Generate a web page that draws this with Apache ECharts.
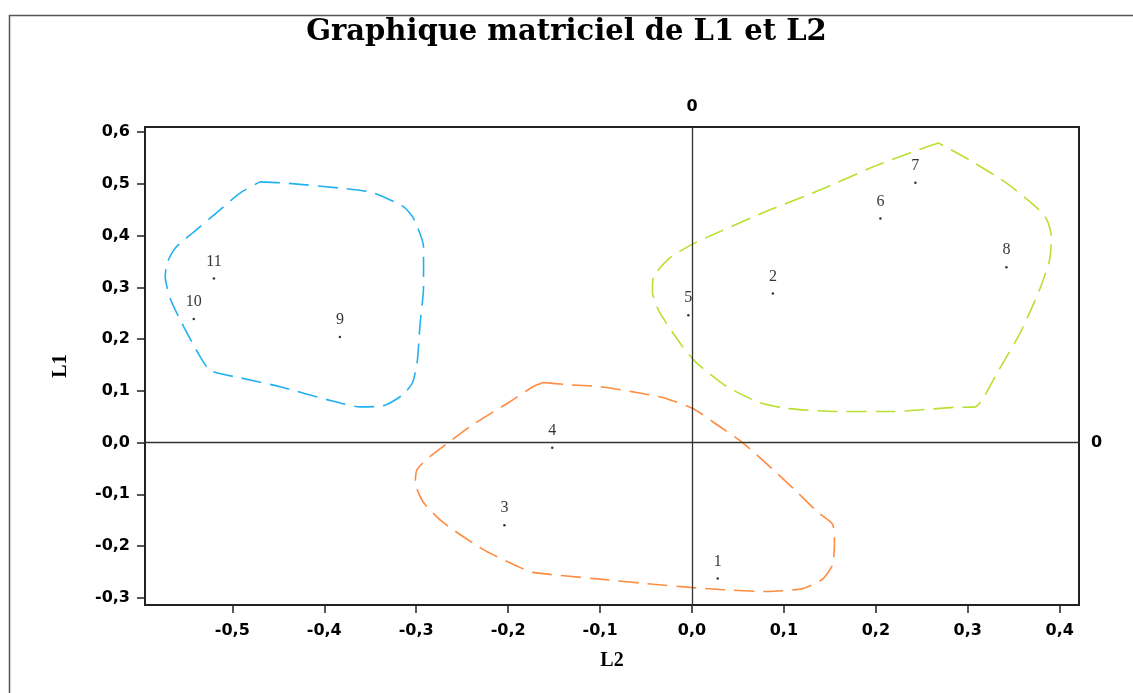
<!DOCTYPE html>
<html>
<head>
<meta charset="utf-8">
<script src="https://cdn.jsdelivr.net/npm/echarts@6/dist/echarts.min.js"></script>
<style>
html,body{margin:0;padding:0;background:#fff;}
#chart{width:1133px;height:693px;}
</style>
</head>
<body>
<div id="chart"></div>
<script>
// ---- data ----
const pointIds = ['1','2','3','4','5','6','7','8','9','10','11'];
const L2 = [0.028, 0.088, -0.204, -0.152, -0.004, 0.205, 0.243, 0.342, -0.383, -0.542, -0.520];
const L1 = [-0.263, 0.288, -0.160, -0.010, 0.246, 0.433, 0.502, 0.339, 0.204, 0.239, 0.317];

const xTicks = [-0.5, -0.4, -0.3, -0.2, -0.1, 0.0, 0.1, 0.2, 0.3, 0.4];
const yTicks = [-0.3, -0.2, -0.1, 0.0, 0.1, 0.2, 0.3, 0.4, 0.5, 0.6];

// group outlines (L2, L1)
const blueHull = [
  [-0.470,0.504],[-0.445,0.502],[-0.383,0.492],[-0.347,0.483],[-0.314,0.456],[-0.303,0.434],
  [-0.292,0.378],[-0.292,0.301],[-0.296,0.224],[-0.299,0.154],[-0.304,0.116],[-0.314,0.093],
  [-0.336,0.071],[-0.361,0.069],[-0.397,0.083],[-0.448,0.108],[-0.491,0.125],[-0.524,0.139],
  [-0.535,0.166],[-0.553,0.224],[-0.567,0.276],[-0.573,0.320],[-0.571,0.347],[-0.562,0.376],
  [-0.542,0.407],[-0.516,0.446],[-0.491,0.483],[-0.470,0.504]
];
const greenHull = [
  [0.268,0.579],[0.240,0.562],[0.197,0.533],[0.139,0.488],[0.085,0.450],[0.023,0.402],
  [0.001,0.384],[-0.024,0.357],[-0.042,0.320],[-0.043,0.290],[-0.035,0.251],[-0.010,0.185],
  [0.005,0.154],[0.038,0.108],[0.074,0.077],[0.103,0.066],[0.158,0.060],[0.218,0.060],
  [0.284,0.068],[0.308,0.069],[0.332,0.135],[0.357,0.212],[0.378,0.295],[0.389,0.353],
  [0.391,0.398],[0.386,0.431],[0.375,0.454],[0.342,0.502],[0.302,0.546],[0.268,0.579]
];
const orangeHull = [
  [-0.162,0.116],[-0.136,0.112],[-0.100,0.108],[-0.064,0.098],[-0.032,0.087],[0.001,0.066],
  [0.030,0.031],[0.055,0.000],[0.088,-0.052],[0.114,-0.095],[0.137,-0.135],[0.153,-0.158],
  [0.155,-0.193],[0.153,-0.236],[0.142,-0.264],[0.121,-0.282],[0.082,-0.288],[0.030,-0.284],
  [-0.002,-0.280],[-0.042,-0.274],[-0.100,-0.264],[-0.173,-0.251],[-0.190,-0.239],[-0.227,-0.207],
  [-0.271,-0.154],[-0.292,-0.116],[-0.301,-0.077],[-0.299,-0.052],[-0.285,-0.027],[-0.265,0.000],
  [-0.238,0.035],[-0.198,0.079],[-0.173,0.108],[-0.162,0.116]
];

// ---- chart ----
const chart = echarts.init(document.getElementById('chart'), null, {renderer:'canvas'});
const fmt = v => (Math.abs(v) < 1e-9 ? 0 : v).toFixed(1).replace('.', ',');
const tickFont = {fontFamily:'DejaVu Sans', fontWeight:'bold', fontSize:16, color:'#000'};

function hullSeries(data, color) {
  return {
    type:'line', data:data, symbol:'none', smooth:0.2, silent:true, z:3,
    lineStyle:{color:color, width:1.6, type:[20,9]}
  };
}

const option = {
  animation:false,
  backgroundColor:'#fff',
  title:{
    text:'Graphique matriciel de L1 et L2',
    left:'center', top:13,
    textStyle:{fontFamily:'DejaVu Serif', fontWeight:'bold', fontSize:29, color:'#000'}
  },
  graphic:[{
    type:'rect', left:7, top:13, silent:true,
    shape:{width:1200, height:800},
    style:{fill:'none', stroke:'#555', lineWidth:1.5}
  }],
  grid:{left:145, top:127, right:54, bottom:88, show:true, borderColor:'#222', borderWidth:2},
  xAxis:{
    type:'value', min:-0.595, max:0.421,
    name:'L2', nameLocation:'middle', nameGap:46,
    nameTextStyle:{fontFamily:'Liberation Serif', fontWeight:'bold', fontSize:20, color:'#000'},
    splitLine:{show:false},
    axisLine:{show:true, onZero:false, lineStyle:{color:'#222', width:2}},
    axisTick:{show:true, customValues:xTicks, length:8, lineStyle:{color:'#222', width:1.5}},
    axisLabel:Object.assign({customValues:xTicks, formatter:fmt, margin:18}, tickFont)
  },
  yAxis:{
    type:'value', min:-0.314, max:0.610,
    name:'L1', nameLocation:'middle', nameGap:74,
    nameTextStyle:{fontFamily:'Liberation Serif', fontWeight:'bold', fontSize:20, color:'#000'},
    splitLine:{show:false},
    axisLine:{show:true, onZero:false, lineStyle:{color:'#222', width:2}},
    axisTick:{show:true, customValues:yTicks, length:8, lineStyle:{color:'#222', width:1.5}},
    axisLabel:Object.assign({customValues:yTicks, formatter:fmt, margin:15}, tickFont)
  },
  series:[
    hullSeries(blueHull, '#22b1f0'),
    hullSeries(greenHull, '#b9e031'),
    hullSeries(orangeHull, '#ff8b40'),
    {
      type:'scatter', z:5,
      data:L2.map((x,i)=>({value:[x, L1[i]], name:pointIds[i]})),
      symbol:'circle', symbolSize:2.5,
      itemStyle:{color:'#000'},
      label:{show:true, position:'top', distance:8, formatter:p=>p.name,
             fontFamily:'Liberation Serif', fontSize:16, color:'#000'},
      markLine:{
        silent:true, symbol:'none', animation:false,
        lineStyle:{color:'#333', width:1.3, type:'solid'},
        label:{show:true, position:'end', formatter:'0', distance:12,
               fontFamily:'DejaVu Sans', fontWeight:'bold', fontSize:16, color:'#000'},
        data:[{xAxis:0},{yAxis:0}]
      }
    }
  ]
};
chart.setOption(option);
</script>
</body>
</html>
